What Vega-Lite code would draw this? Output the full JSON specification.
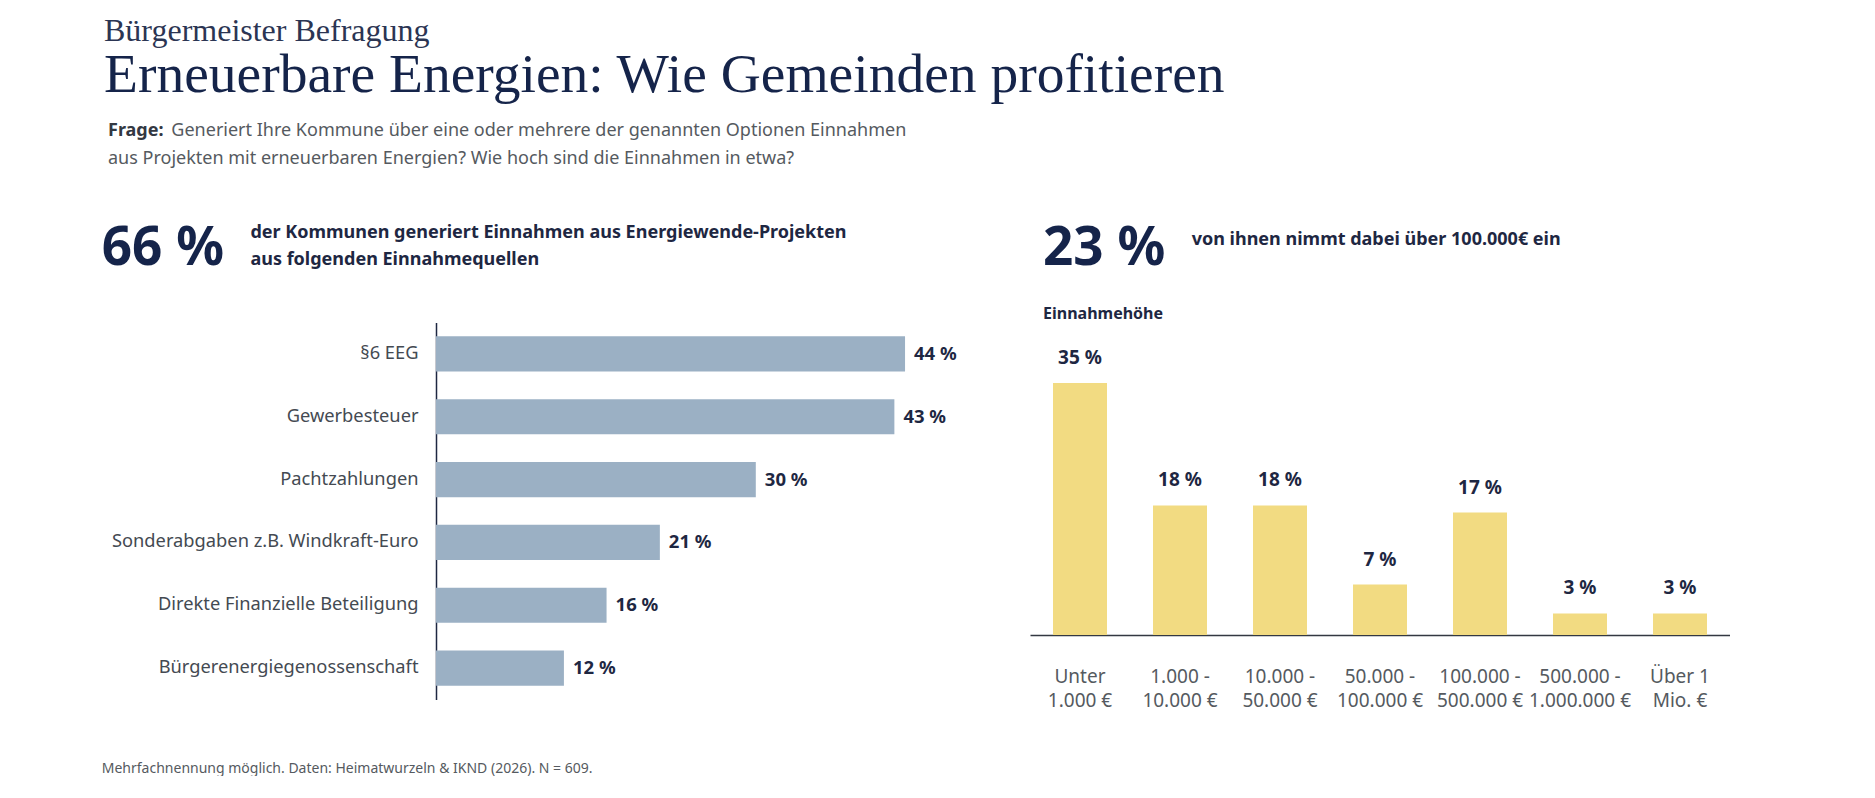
{
  "$schema": "https://vega.github.io/schema/vega-lite/v6.json",
  "background": "white",
  "padding": {"left": 101, "top": 15, "right": 0, "bottom": 0},
  "datasets": {
    "quellen": [
      {"quelle": "§6 EEG", "anteil": 44},
      {"quelle": "Gewerbesteuer", "anteil": 43},
      {"quelle": "Pachtzahlungen", "anteil": 30},
      {"quelle": "Sonderabgaben z.B. Windkraft-Euro", "anteil": 21},
      {"quelle": "Direkte Finanzielle Beteiligung", "anteil": 16},
      {"quelle": "Bürgerenergiegenossenschaft", "anteil": 12}
    ],
    "hoehe": [
      {"klasse": "Unter\n1.000 €", "anteil": 35},
      {"klasse": "1.000 -\n10.000 €", "anteil": 18},
      {"klasse": "10.000 -\n50.000 €", "anteil": 18},
      {"klasse": "50.000 -\n100.000 €", "anteil": 7},
      {"klasse": "100.000 -\n500.000 €", "anteil": 17},
      {"klasse": "500.000 -\n1.000.000 €", "anteil": 3},
      {"klasse": "Über 1\nMio. €", "anteil": 3}
    ],
    "leer": [{}]
  },
  "title": {
    "text": "Mehrfachnennung möglich. Daten: Heimatwurzeln & IKND (2026). N = 609.",
    "orient": "bottom",
    "anchor": "start",
    "font": "Noto Sans",
    "fontSize": 14,
    "fontWeight": "normal",
    "color": "#555a60",
    "offset": 52
  },
  "spacing": 0,
  "vconcat": [
    {
      "title": {
        "text": "Bürgermeister Befragung",
        "subtitle": "Erneuerbare Energien: Wie Gemeinden profitieren",
        "dx": -332,
        "font": "Liberation Serif",
        "fontSize": 32,
        "fontWeight": "normal",
        "color": "#2b3553",
        "subtitleFont": "Liberation Serif",
        "subtitleFontSize": 55.5,
        "subtitleColor": "#15244a",
        "subtitlePadding": -0.5
      },
      "data": {"name": "leer"},
      "width": 100,
      "height": 14,
      "mark": {"type": "point", "opacity": 0}
    },
    {
      "title": {
        "text": "Frage:",
        "subtitle": [
          "\u200b\u2003\u2003\u2003\u00a0\u00a0Generiert Ihre Kommune über eine oder mehrere der genannten Optionen Einnahmen",
          "aus Projekten mit erneuerbaren Energien? Wie hoch sind die Einnahmen in etwa?"
        ],
        "dx": -328,
        "font": "Noto Sans",
        "fontSize": 18,
        "fontWeight": "bold",
        "color": "#333842",
        "subtitleFont": "Noto Sans",
        "subtitleFontSize": 18,
        "subtitleFontWeight": "normal",
        "subtitleColor": "#555a60",
        "subtitleLineHeight": 28,
        "subtitlePadding": -18
      },
      "data": {"name": "leer"},
      "width": 100,
      "height": 50,
      "mark": {"type": "point", "opacity": 0}
    },
    {
      "spacing": 61,
      "hconcat": [
        {
          "spacing": 36.5,
          "vconcat": [
            {
              "title": {
                "text": "66 %",
                "subtitle": [
                  "\u200b\u2003\u2003\u2003\u2003\u2003\u2003\u2003\u2003\u00a0der Kommunen generiert Einnahmen aus Energiewende-Projekten",
                  "\u200b\u2003\u2003\u2003\u2003\u2003\u2003\u2003\u2003\u00a0aus folgenden Einnahmequellen"
                ],
                "dx": -332,
                "font": "Noto Sans",
                "fontSize": 53,
                "fontWeight": "bold",
                "color": "#15244a",
                "subtitleFont": "Noto Sans",
                "subtitleFontSize": 18,
                "subtitleFontWeight": "bold",
                "subtitleColor": "#1e2742",
                "subtitleLineHeight": 27,
                "subtitlePadding": -51.5
              },
              "data": {"name": "leer"},
              "width": 1,
              "height": 1,
              "mark": {"type": "point", "opacity": 0}
            },
            {
              "data": {"name": "quellen"},
              "width": 533,
              "height": 377,
              "transform": [{"calculate": "datum.anteil + ' %'", "as": "beschriftung"}],
              "encoding": {
                "y": {
                  "field": "quelle",
                  "type": "nominal",
                  "sort": null,
                  "scale": {"paddingInner": 0.44, "paddingOuter": 0.22},
                  "axis": {
                    "title": null,
                    "ticks": false,
                    "domainColor": "#1e2742",
                    "domainWidth": 1.5,
                    "labelPadding": 18,
                    "labelFont": "Noto Sans",
                    "labelFontSize": 18.3,
                    "labelColor": "#444a52",
                    "labelLimit": 0
                  }
                },
                "x": {
                  "field": "anteil",
                  "type": "quantitative",
                  "scale": {"domain": [0, 50]},
                  "axis": null
                }
              },
              "layer": [
                {"mark": {"type": "bar", "color": "#9bb0c4"}},
                {
                  "mark": {"type": "text", "align": "left", "dx": 9, "font": "Noto Sans", "fontSize": 18.5, "fontWeight": "bold", "color": "#1e2742"},
                  "encoding": {"text": {"field": "beschriftung", "type": "nominal"}}
                }
              ]
            }
          ]
        },
        {
          "spacing": 20,
          "vconcat": [
            {
              "title": {
                "text": "23 %",
                "subtitle": "\u200b\u2003\u2003\u2003\u2003\u2003\u2003\u2003\u2003\u00a0von ihnen nimmt dabei über 100.000€ ein",
                "dx": 13,
                "font": "Noto Sans",
                "fontSize": 53,
                "fontWeight": "bold",
                "color": "#15244a",
                "subtitleFont": "Noto Sans",
                "subtitleFontSize": 18,
                "subtitleFontWeight": "bold",
                "subtitleColor": "#1e2742",
                "subtitlePadding": -44.5
              },
              "data": {"name": "leer"},
              "width": 100,
              "height": 1,
              "mark": {"type": "point", "opacity": 0}
            },
            {
              "title": {"text": "Einnahmehöhe", "dx": 13, "offset": 25, "font": "Noto Sans", "fontSize": 16, "fontWeight": "bold", "color": "#1e2742"},
              "data": {"name": "hoehe"},
              "width": 700,
              "height": 288,
              "transform": [{"calculate": "datum.anteil + ' %'", "as": "beschriftung"}],
              "encoding": {
                "x": {
                  "field": "klasse",
                  "type": "nominal",
                  "sort": null,
                  "scale": {"paddingInner": 0.46, "paddingOuter": 0.23},
                  "axis": {
                    "title": null,
                    "labelAngle": 0,
                    "labelExpr": "split(datum.label, '\\n')",
                    "ticks": false,
                    "domainColor": "#333842",
                    "domainWidth": 1.5,
                    "labelPadding": 32,
                    "labelFont": "Noto Sans",
                    "labelFontSize": 19,
                    "labelLineHeight": 24,
                    "labelColor": "#555a60",
                    "labelLimit": 0
                  }
                },
                "y": {
                  "field": "anteil",
                  "type": "quantitative",
                  "scale": {"domain": [0, 40]},
                  "axis": null
                }
              },
              "layer": [
                {"mark": {"type": "bar", "color": "#f2db82"}},
                {
                  "mark": {"type": "text", "baseline": "alphabetic", "dy": -19, "font": "Noto Sans", "fontSize": 19, "fontWeight": "bold", "color": "#1e2742"},
                  "encoding": {"text": {"field": "beschriftung", "type": "nominal"}}
                }
              ]
            }
          ]
        }
      ]
    }
  ],
  "config": {
    "view": {"stroke": null},
    "title": {"anchor": "start", "offset": 0}
  }
}
